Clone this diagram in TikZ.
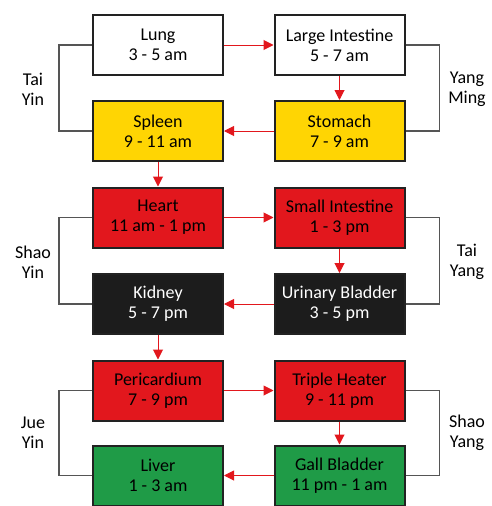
\documentclass[tikz,border=0pt]{standalone}
\usepackage{fontspec}
\setmainfont{Carlito}
\usetikzlibrary{arrows.meta}
\definecolor{gold}{HTML}{FFD503}
\definecolor{scarlet}{HTML}{E2171D}
\definecolor{coal}{HTML}{1C1C1C}
\definecolor{leaf}{HTML}{1F9B47}
\definecolor{edge}{HTML}{222222}
\definecolor{pipe}{HTML}{555555}

\tikzset{
  organ/.style={draw=edge,line width=2pt,minimum width=130pt,minimum height=60pt,
    align=center,inner sep=0pt,font=\fontsize{18}{20}\selectfont},
  flow/.style={scarlet,line width=1pt,-{Triangle[length=10pt,width=10pt]}},
  pair/.style={pipe,line width=1.6pt},
  channel/.style={align=center,font=\fontsize{18}{20}\selectfont}
}

\begin{document}
\begin{tikzpicture}[x=1pt,y=-1pt]
    \useasboundingbox (0,0) rectangle (491,506);
    % organ boxes, left and right column
    \node[organ,fill=white]              (lung)    at (158,45)    {Lung\\3 - 5 am};
    \node[organ,fill=white]              (colon)   at (339.5,45)  {Large Intestine\\5 - 7 am};
    \node[organ,fill=gold]               (spleen)  at (158,131)   {Spleen\\9 - 11 am};
    \node[organ,fill=gold]               (stomach) at (339.5,131) {Stomach\\7 - 9 am};
    \node[organ,fill=scarlet]            (heart)   at (158,217.5) {Heart\\11 am - 1 pm};
    \node[organ,fill=scarlet]            (smallint) at (339.5,217.5) {Small Intestine\\1 - 3 pm};
    \node[organ,fill=coal,text=white]    (kidney)  at (158,304)   {Kidney\\5 - 7 pm};
    \node[organ,fill=coal,text=white]    (bladder) at (339.5,304) {Urinary Bladder\\3 - 5 pm};
    \node[organ,fill=scarlet]            (pericard) at (158,390.5) {Pericardium\\7 - 9 pm};
    \node[organ,fill=scarlet]            (heater)  at (339.5,390.5) {Triple Heater\\9 - 11 pm};
    \node[organ,fill=leaf]               (liver)   at (158,475.5) {Liver\\1 - 3 am};
    \node[organ,fill=leaf]               (gall)    at (339.5,475.5) {Gall Bladder\\11 pm - 1 am};
    % channel pairs
    \foreach \a/\b in {lung/spleen,heart/kidney,pericard/liver}
      \draw[pair] (\a.west) -- ++(-33,0) |- (\b.west);
    \foreach \a/\b in {colon/stomach,smallint/bladder,heater/gall}
      \draw[pair] (\a.east) -- ++(34,0) |- (\b.east);
    \node[channel] (taiyin)   at (33,89)    {Tai\\Yin};
    \node[channel] (yangming) at (467,89)   {Yang\\Ming};
    \node[channel] (shaoyin)  at (33,262)   {Shao\\Yin};
    \node[channel] (taiyang)  at (467,262)  {Tai\\Yang};
    \node[channel] (jueyin)   at (33,433)   {Jue\\Yin};
    \node[channel] (shaoyang) at (467,433)  {Shao\\Yang};
    % daily flow
    \draw[flow] (lung.east) -- (colon.west);
    \draw[flow] (colon.south) -- (stomach.north);
    \draw[flow] (stomach.west) -- (spleen.east);
    \draw[flow] (spleen.south) -- (heart.north);
    \draw[flow] (heart.east) -- (smallint.west);
    \draw[flow] (smallint.south) -- (bladder.north);
    \draw[flow] (bladder.west) -- (kidney.east);
    \draw[flow] (kidney.south) -- (pericard.north);
    \draw[flow] (pericard.east) -- (heater.west);
    \draw[flow] (heater.south) -- (gall.north);
    \draw[flow] (gall.west) -- (liver.east);
  \end{tikzpicture}
\end{document}
